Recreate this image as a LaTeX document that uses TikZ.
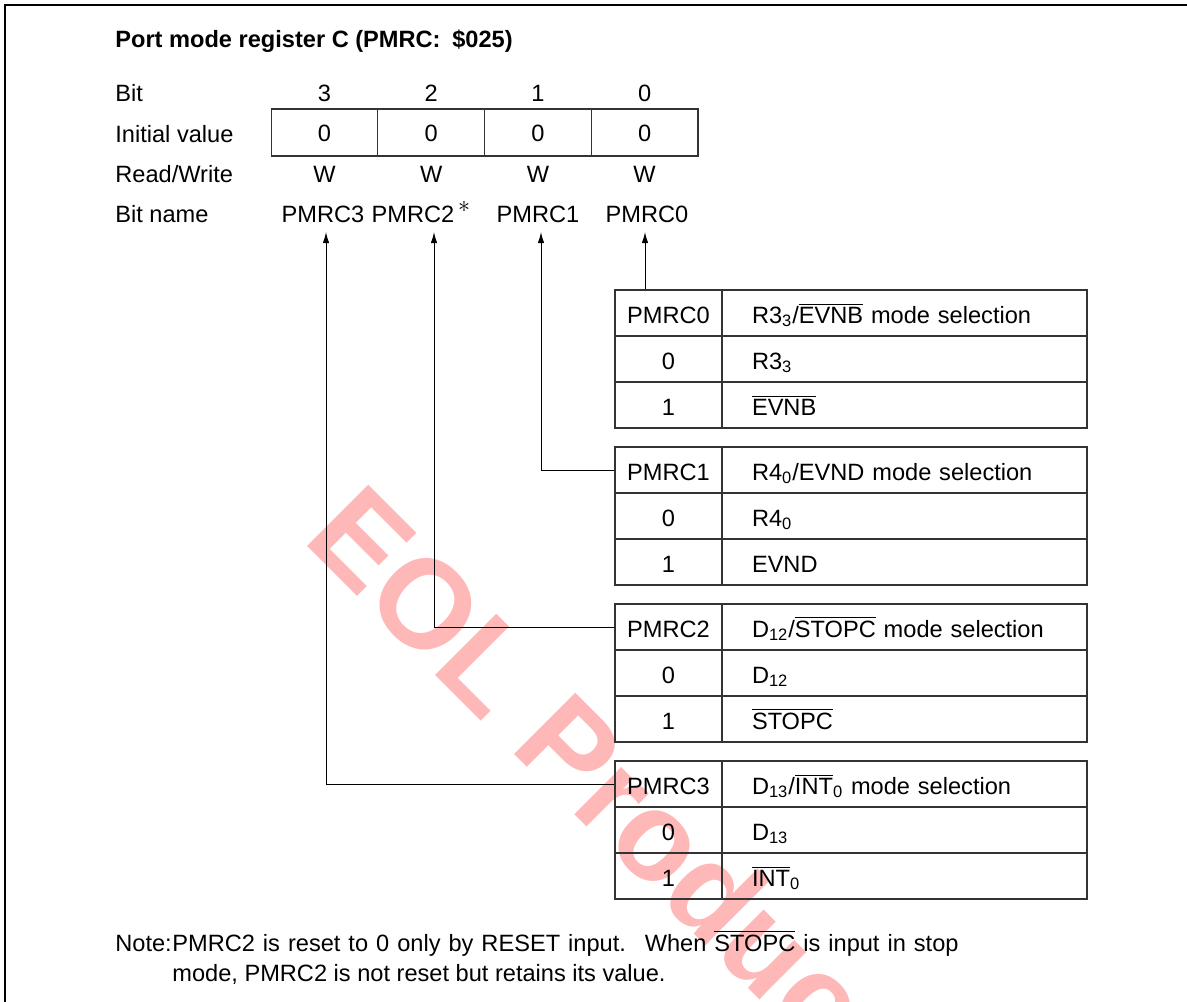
\documentclass[tikz,border=0pt]{standalone}
\usepackage{fontspec}
\setmainfont{Liberation Sans}
\usetikzlibrary{arrows.meta}

\newcommand{\ovl}[1]{$\overline{\mbox{#1}}$}

\tikzset{
  lbl/.style={anchor=base west, inner sep=0pt},
  val/.style={anchor=base, inner sep=0pt},
  regcell/.style={draw=black!80, line width=0.6pt, minimum width=53.375pt, minimum height=23.5pt,
    text height=9.5pt, text depth=1pt, inner sep=0pt},
  keycell/.style={draw=black!80, line width=0.6pt, minimum width=53.5pt, minimum height=23pt,
    text height=11pt, text depth=1pt, inner sep=0pt},
  desccell/.style={draw=black!80, line width=0.6pt, minimum width=182.5pt, minimum height=23pt,
    text height=11pt, text depth=1pt, inner xsep=15pt, inner ysep=0pt, text width=152.5pt, align=left},
  conn/.style={line width=0.5pt, -{Latex[length=5.5pt,width=3.2pt]}},
}

\begin{document}
\begin{tikzpicture}[x=0.5pt, y=-0.5pt, every node/.style={font=\fontsize{11.8}{14}\selectfont}]
    \useasboundingbox (0,0) rectangle (1187,1001);

    % Watermark
    \node[rotate=-45, text=red!28, font=\fontsize{63}{63}\selectfont\bfseries] (mark) at (630,806) {EOL Products};

    % Frame
    \draw[line width=0.9pt] (1200,5) -- (5,5) -- (5,1010);

    % Title and row labels
    \node[lbl, font=\fontsize{11.8}{14}\selectfont\bfseries] (title) at (115,47) {Port mode register C (PMRC:\hspace{0.5em}\$025)};
    \node[lbl] (bitlbl) at (115,101) {Bit};
    \node[lbl] (initlbl) at (115,142) {Initial value};
    \node[lbl] (rwlbl) at (115,182) {Read/Write};
    \node[lbl] (namelbl) at (115,222) {Bit name};

    % Register
    \node[val] (b3) at (324.5,101) {3};
    \node[val] (b2) at (431.2,101) {2};
    \node[val] (b1) at (537.9,101) {1};
    \node[val] (b0) at (644.6,101) {0};
    \node[regcell] (r3) at (324.5,132.5) {0};
    \node[regcell] (r2) at (431.2,132.5) {0};
    \node[regcell] (r1) at (537.9,132.5) {0};
    \node[regcell] (r0) at (644.6,132.5) {0};
    \node[val] (w3) at (324.5,182) {W};
    \node[val] (w2) at (431.2,182) {W};
    \node[val] (w1) at (537.9,182) {W};
    \node[val] (w0) at (644.6,182) {W};

    % Bit names
    \node[val] (n3) at (323,222) {PMRC3};
    \node[val] (n2) at (413,222) {PMRC2\rlap{\,\raisebox{0.42em}{$\ast$}}};
    \node[val] (n1) at (538,222) {PMRC1};
    \node[val] (n0) at (647,222) {PMRC0};
    \coordinate (tip3) at (326,232);
    \coordinate (tip2) at (434,232);
    \coordinate (tip1) at (541,232);
    \coordinate (tip0) at (645,232);

    % PMRC0 table
    \node[keycell] (k0) at (668.5,313) {PMRC0};
    \node[desccell] (d0) at (904.5,313) {R3\textsubscript{3}/\ovl{EVNB} mode selection};
    \node[keycell] (k0a) at (668.5,359) {0};
    \node[desccell] (d0a) at (904.5,359) {R3\textsubscript{3}};
    \node[keycell] (k0b) at (668.5,405) {1};
    \node[desccell] (d0b) at (904.5,405) {\ovl{EVNB}};

    % PMRC1 table
    \node[keycell] (k1) at (668.5,470) {PMRC1};
    \node[desccell] (d1) at (904.5,470) {R4\textsubscript{0}/EVND mode selection};
    \node[keycell] (k1a) at (668.5,516) {0};
    \node[desccell] (d1a) at (904.5,516) {R4\textsubscript{0}};
    \node[keycell] (k1b) at (668.5,562) {1};
    \node[desccell] (d1b) at (904.5,562) {EVND};

    % PMRC2 table
    \node[keycell] (k2) at (668.5,627) {PMRC2};
    \node[desccell] (d2) at (904.5,627) {D\textsubscript{12}/\ovl{STOPC} mode selection};
    \node[keycell] (k2a) at (668.5,673) {0};
    \node[desccell] (d2a) at (904.5,673) {D\textsubscript{12}};
    \node[keycell] (k2b) at (668.5,719) {1};
    \node[desccell] (d2b) at (904.5,719) {\ovl{STOPC}};

    % PMRC3 table
    \node[keycell] (k3) at (668.5,784) {PMRC3};
    \node[desccell] (d3) at (904.5,784) {D\textsubscript{13}/\ovl{INT}\textsubscript{0} mode selection};
    \node[keycell] (k3a) at (668.5,830) {0};
    \node[desccell] (d3a) at (904.5,830) {D\textsubscript{13}};
    \node[keycell] (k3b) at (668.5,876) {1};
    \node[desccell] (d3b) at (904.5,876) {\ovl{INT}\textsubscript{0}};

    % Connectors
    \draw[conn] (tip0 |- k0.north) -- (tip0);
    \draw[conn] (k1.west) -| (tip1);
    \draw[conn] (k2.west) -| (tip2);
    \draw[conn] (k3.west) -| (tip3);

    % Note
    \node[lbl] (notelbl) at (115,951) {Note:};
    \node[lbl] (note1) at (172,951) {\spaceskip=4pt\relax PMRC2 is reset to 0 only by RESET input.\hspace{0.8em}When \ovl{STOPC} is input in stop};
    \node[lbl] (note2) at (172,981) {mode, PMRC2 is not reset but retains its value.};
  \end{tikzpicture}
\end{document}
